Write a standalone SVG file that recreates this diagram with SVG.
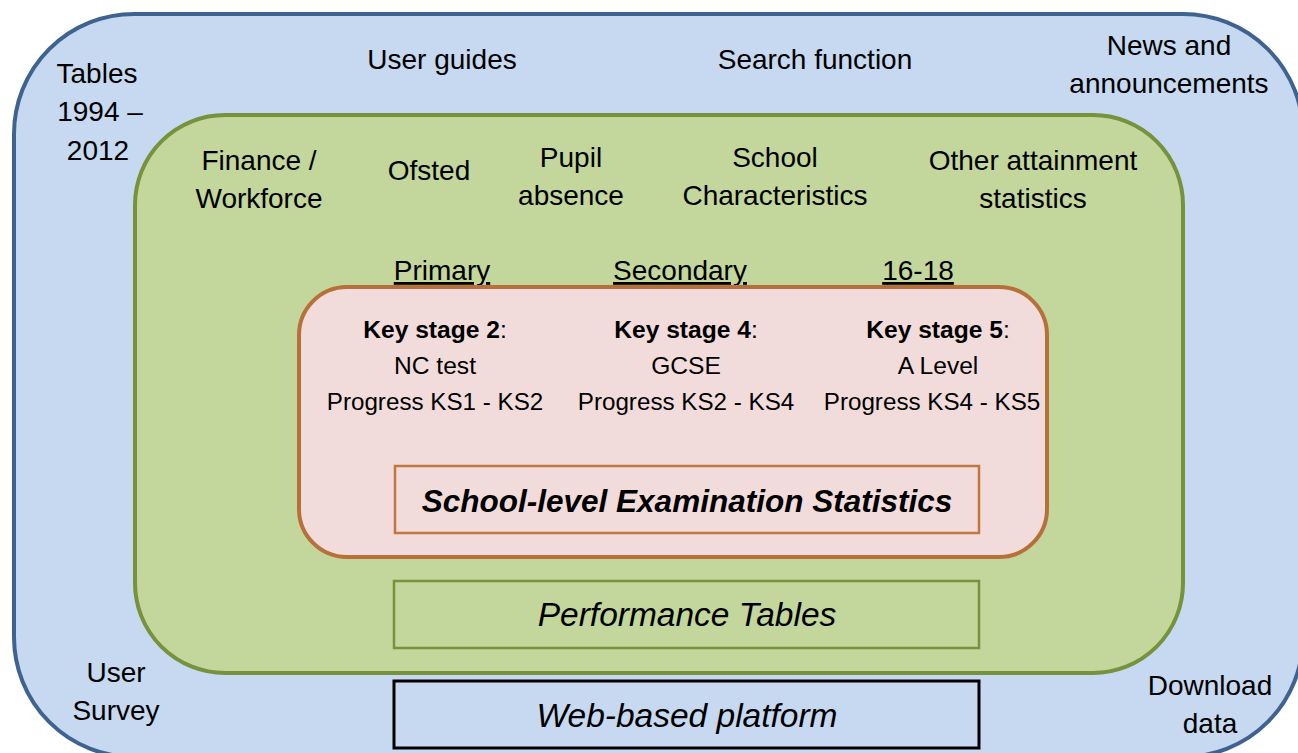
<svg xmlns="http://www.w3.org/2000/svg" width="1298" height="753" viewBox="0 0 1298 753">
  <style>
    text { font-family: "Liberation Sans", Arial, sans-serif; font-size: 28px; fill: #000; text-anchor: middle; }
    .u { text-decoration: underline; }
    .b { font-weight: bold; }
    .ks { font-size: 24.6px; }
    .pg { font-size: 24.2px; }
    .title { font-size: 33.5px; font-style: italic; }
    .title.b { font-size: 31.5px; }
  </style>
  <rect width="1298" height="753" fill="#ffffff"/>

  <!-- outer layer: web platform -->
  <g id="platform">
    <rect x="14" y="14" width="1289" height="743" rx="120" ry="120" fill="#c6d9f0" stroke="#3f6391" stroke-width="4"/>
    <text x="97" y="83">Tables</text>
    <text x="100" y="121">1994 –</text>
    <text x="98" y="160">2012</text>
    <text x="442" y="69">User guides</text>
    <text x="815" y="69">Search function</text>
    <text x="1169" y="55">News and</text>
    <text x="1169" y="93">announcements</text>
    <text x="116" y="682">User</text>
    <text x="116" y="720">Survey</text>
    <text x="1210" y="695">Download</text>
    <text x="1210" y="733">data</text>
  </g>

  <!-- middle layer: performance tables -->
  <g id="performance">
    <rect x="135" y="115" width="1048" height="558" rx="90" ry="90" fill="#c3d69b" stroke="#76923c" stroke-width="4"/>
    <text x="259" y="170">Finance /</text>
    <text x="259" y="208">Workforce</text>
    <text x="429" y="180">Ofsted</text>
    <text x="571" y="167">Pupil</text>
    <text x="571" y="205">absence</text>
    <text x="775" y="167">School</text>
    <text x="775" y="205">Characteristics</text>
    <text x="1033" y="170">Other attainment</text>
    <text x="1033" y="208">statistics</text>
    <text class="u" x="442" y="280">Primary</text>
    <text class="u" x="680" y="280">Secondary</text>
    <text class="u" x="918" y="280">16-18</text>
  </g>

  <!-- inner layer: examination statistics -->
  <g id="exam-stats">
    <rect x="299" y="287" width="748" height="270" rx="48" ry="48" fill="#f2dcdb" stroke="#b8703a" stroke-width="4"/>
    <text class="ks" x="435" y="338"><tspan class="b">Key stage 2</tspan>:</text>
    <text class="ks" x="435" y="374">NC test</text>
    <text class="pg" x="435" y="410">Progress KS1 - KS2</text>
    <text class="ks" x="686" y="338"><tspan class="b">Key stage 4</tspan>:</text>
    <text class="ks" x="686" y="374">GCSE</text>
    <text class="pg" x="686" y="410">Progress KS2 - KS4</text>
    <text class="ks" x="938" y="338"><tspan class="b">Key stage 5</tspan>:</text>
    <text class="ks" x="938" y="374">A Level</text>
    <text class="pg" x="932" y="410">Progress KS4 - KS5</text>
  </g>

  <!-- labelled boxes -->
  <g id="school-level-box">
    <rect x="395" y="466" width="584" height="67" fill="#f2dcdb" stroke="#c0783e" stroke-width="2.5"/>
    <text class="title b" x="687" y="512">School-level Examination Statistics</text>
  </g>
  <g id="performance-tables-box">
    <rect x="394" y="581" width="585" height="67" fill="#c3d69b" stroke="#76923c" stroke-width="2.5"/>
    <text class="title" x="687" y="626">Performance Tables</text>
  </g>
  <g id="web-platform-box">
    <rect x="394" y="681" width="585" height="67" fill="#c6d9f0" stroke="#000000" stroke-width="3"/>
    <text class="title" x="687" y="727">Web-based platform</text>
  </g>

  <g id="connectors"/>
</svg>
